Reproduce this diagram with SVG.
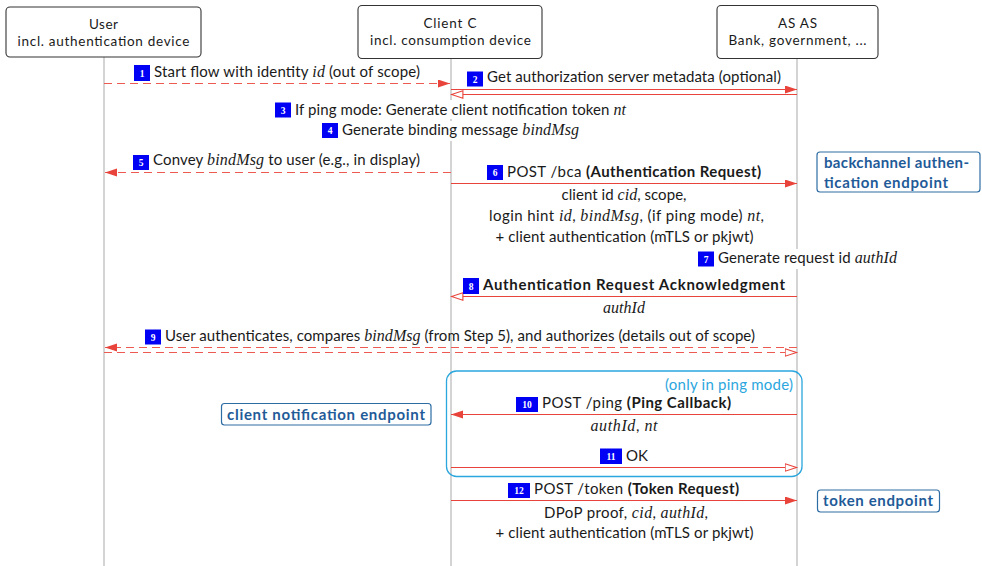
<svg xmlns="http://www.w3.org/2000/svg" width="982" height="566" viewBox="0 0 982 566">
<style>
  .box{fill:#fff;stroke:#333;stroke-width:1.1}
  .life{stroke:#bdbdbd;stroke-width:1.3;fill:none}
  .t{font-family:Lato,"Open Sans","Liberation Sans",sans-serif;font-size:15px;fill:#1a1a1a}
  .hd{font-family:Lato,"Open Sans","Liberation Sans",sans-serif;font-size:13.5px;fill:#1a1a1a;text-anchor:middle}
  .i{font-family:"Liberation Serif","DejaVu Serif",serif;font-style:italic;font-size:16px}
  .b{font-weight:bold}
  .badge{fill:#0000f5}
  .num{font-family:"Liberation Serif","DejaVu Serif",serif;font-weight:bold;font-size:9.5px;fill:#fff;text-anchor:middle}
  .msg{stroke:#e9443b;stroke-width:1.2;fill:none}
  .dash{stroke:#ec5a52;stroke-width:1.2;fill:none;stroke-dasharray:8 5}
  .ep{fill:#fff;stroke:#2e6da4;stroke-width:1.2}
  .ept{font-family:Lato,"Open Sans","Liberation Sans",sans-serif;font-size:15px;font-weight:bold;fill:#1f5b98}
  .mid{text-anchor:middle}
</style>
<defs>
  <marker id="fh" markerUnits="userSpaceOnUse" markerWidth="14" markerHeight="10" refX="12" refY="4" orient="auto">
    <path d="M0,0 L12,4 L0,8 z" fill="#e9443b"/>
  </marker>
  <marker id="oh" markerUnits="userSpaceOnUse" markerWidth="14" markerHeight="10" refX="12.5" refY="4.5" orient="auto">
    <path d="M0.6,0.8 L12,4.5 L0.6,8.2 z" fill="#fff" stroke="#e9443b" stroke-width="1.1"/>
  </marker>
</defs>

<g id="lifelines">
  <line class="life" x1="104" y1="57" x2="104" y2="566"/>
  <line class="life" x1="451" y1="58.5" x2="451" y2="566"/>
  <line class="life" x1="797" y1="58.5" x2="797" y2="566"/>
</g>

<g id="user">
  <rect class="box" x="6" y="7" width="195" height="50" rx="4"/>
  <text class="hd" x="103.5" y="28.5" textLength="29">User</text>
  <text class="hd" x="103.5" y="45.5" textLength="172">incl. authentication device</text>
</g>
<g id="client">
  <rect class="box" x="358" y="5.5" width="184" height="53" rx="4"/>
  <text class="hd" x="450" y="27.5" textLength="53">Client C</text>
  <text class="hd" x="450.5" y="44.5" textLength="161">incl. consumption device</text>
</g>
<g id="as">
  <rect class="box" x="717" y="5.5" width="161" height="53" rx="4"/>
  <text class="hd" x="797.5" y="27.5" textLength="39">AS AS</text>
  <text class="hd" x="797.5" y="44.5" textLength="138">Bank, government, ...</text>
</g>

<g id="frame">
  <rect x="446.5" y="371" width="355.5" height="105.5" rx="10" fill="none" stroke="#2ba6de" stroke-width="1.3"/>
  <text class="t" x="793" y="390" text-anchor="end" textLength="128" style="fill:#2ba6de">(only in ping mode)</text>
</g>

<g id="connectors">
  <line class="dash" x1="104" y1="83.5" x2="450" y2="83.5" marker-end="url(#fh)"/>
  <line class="msg" x1="451" y1="89.5" x2="797" y2="89.5" marker-end="url(#fh)"/>
  <line class="msg" x1="797" y1="94.5" x2="451" y2="94.5" marker-end="url(#oh)"/>
  <line class="dash" x1="451" y1="172.5" x2="105" y2="172.5" marker-end="url(#fh)"/>
  <line class="msg" x1="451" y1="183.5" x2="797" y2="183.5" marker-end="url(#fh)"/>
  <line class="msg" x1="797" y1="296.5" x2="451" y2="296.5" marker-end="url(#oh)"/>
  <line class="dash" x1="797" y1="347.5" x2="105" y2="347.5" marker-end="url(#fh)"/>
  <line class="dash" x1="104" y1="352.5" x2="797" y2="352.5" marker-end="url(#oh)"/>
  <line class="msg" x1="797" y1="414.5" x2="451" y2="414.5" marker-end="url(#fh)"/>
  <line class="msg" x1="451" y1="467.5" x2="797" y2="467.5" marker-end="url(#oh)"/>
  <line class="msg" x1="451" y1="500.5" x2="797" y2="500.5" marker-end="url(#fh)"/>
</g>

<g id="m1">
  <rect class="badge" x="134" y="65" width="16" height="16"/>
  <text class="num" x="142" y="76.5">1</text>
  <text class="t" x="154" y="77" textLength="266">Start flow with identity <tspan class="i">id</tspan> (out of scope)</text>
</g>
<g id="m2">
  <rect class="badge" x="467" y="71.5" width="16" height="15"/>
  <text class="num" x="475" y="82.5">2</text>
  <text class="t" x="487" y="82" textLength="294">Get authorization server metadata (optional)</text>
</g>
<g id="m3">
  <rect x="272" y="100" width="358" height="19" fill="#fff"/>
  <rect class="badge" x="275" y="102.5" width="16" height="15"/>
  <text class="num" x="283" y="113.5">3</text>
  <text class="t" x="295" y="114.5" textLength="331">If ping mode: Generate client notification token <tspan class="i">nt</tspan></text>
</g>
<g id="m4">
  <rect x="319" y="121" width="264" height="20" fill="#fff"/>
  <rect class="badge" x="322" y="123" width="16" height="15"/>
  <text class="num" x="330" y="134">4</text>
  <text class="t" x="342" y="135" textLength="237">Generate binding message <tspan class="i">bindMsg</tspan></text>
</g>
<g id="m5">
  <rect class="badge" x="133" y="155" width="16" height="15"/>
  <text class="num" x="141" y="166">5</text>
  <text class="t" x="153" y="165" textLength="267">Convey <tspan class="i">bindMsg</tspan> to user (e.g., in display)</text>
</g>
<g id="m6">
  <rect class="badge" x="487" y="165" width="16" height="15"/>
  <text class="num" x="495" y="176">6</text>
  <text class="t" x="507" y="176.5" textLength="254">POST /bca <tspan class="b">(Authentication Request)</tspan></text>
  <text class="t mid" x="624" y="199.5" textLength="125">client id <tspan class="i">cid</tspan>, scope,</text>
  <text class="t mid" x="626.5" y="221" textLength="275">login hint <tspan class="i">id</tspan>, <tspan class="i">bindMsg</tspan>, (if ping mode) <tspan class="i">nt</tspan>,</text>
  <text class="t mid" x="624.5" y="242" textLength="258">+ client authentication (mTLS or pkjwt)</text>
</g>
<g id="m7">
  <rect x="695" y="249" width="206" height="20" fill="#fff"/>
  <rect class="badge" x="698" y="251.5" width="16" height="15"/>
  <text class="num" x="706" y="262.5">7</text>
  <text class="t" x="718" y="263" textLength="179">Generate request id <tspan class="i">authId</tspan></text>
</g>
<g id="m8">
  <rect class="badge" x="463" y="278" width="16" height="16"/>
  <text class="num" x="471" y="289.5">8</text>
  <text class="t b" x="483" y="290" textLength="302">Authentication Request Acknowledgment</text>
  <text class="t mid" x="624" y="313"><tspan class="i">authId</tspan></text>
</g>
<g id="m9">
  <rect class="badge" x="145" y="329.5" width="16" height="15"/>
  <text class="num" x="153" y="340.5">9</text>
  <text class="t" x="165" y="341" textLength="590">User authenticates, compares <tspan class="i">bindMsg</tspan> (from Step 5), and authorizes (details out of scope)</text>
</g>
<g id="m10">
  <rect class="badge" x="516" y="397" width="22" height="15"/>
  <text class="num" x="527" y="408">10</text>
  <text class="t" x="542" y="408" textLength="189">POST /ping <tspan class="b">(Ping Callback)</tspan></text>
  <text class="t mid" x="624" y="430.5" textLength="67"><tspan class="i">authId</tspan>, <tspan class="i">nt</tspan></text>
</g>
<g id="m11">
  <rect class="badge" x="600" y="448.5" width="22" height="15.5"/>
  <text class="num" x="611" y="459.5">11</text>
  <text class="t" x="626" y="461">OK</text>
</g>
<g id="m12">
  <rect class="badge" x="508" y="483" width="22" height="15"/>
  <text class="num" x="519" y="494">12</text>
  <text class="t" x="534" y="493.5" textLength="205">POST /token <tspan class="b">(Token Request)</tspan></text>
  <text class="t mid" x="626" y="518" textLength="164">DPoP proof, <tspan class="i">cid</tspan>, <tspan class="i">authId</tspan>,</text>
  <text class="t mid" x="624.5" y="538" textLength="258">+ client authentication (mTLS or pkjwt)</text>
</g>

<g id="ep-bca">
  <rect class="ep" x="817" y="152" width="163" height="40" rx="3"/>
  <text class="ept" x="824" y="167.5" textLength="145">backchannel authen-</text>
  <text class="ept" x="824" y="188" textLength="124">tication endpoint</text>
</g>
<g id="ep-cn">
  <rect class="ep" x="221.5" y="403.5" width="209.5" height="21.5" rx="3"/>
  <text class="ept" x="227" y="419.5" textLength="198">client notification endpoint</text>
</g>
<g id="ep-token">
  <rect class="ep" x="817.5" y="490" width="122" height="22" rx="3"/>
  <text class="ept" x="823" y="506" textLength="110">token endpoint</text>
</g>
</svg>
